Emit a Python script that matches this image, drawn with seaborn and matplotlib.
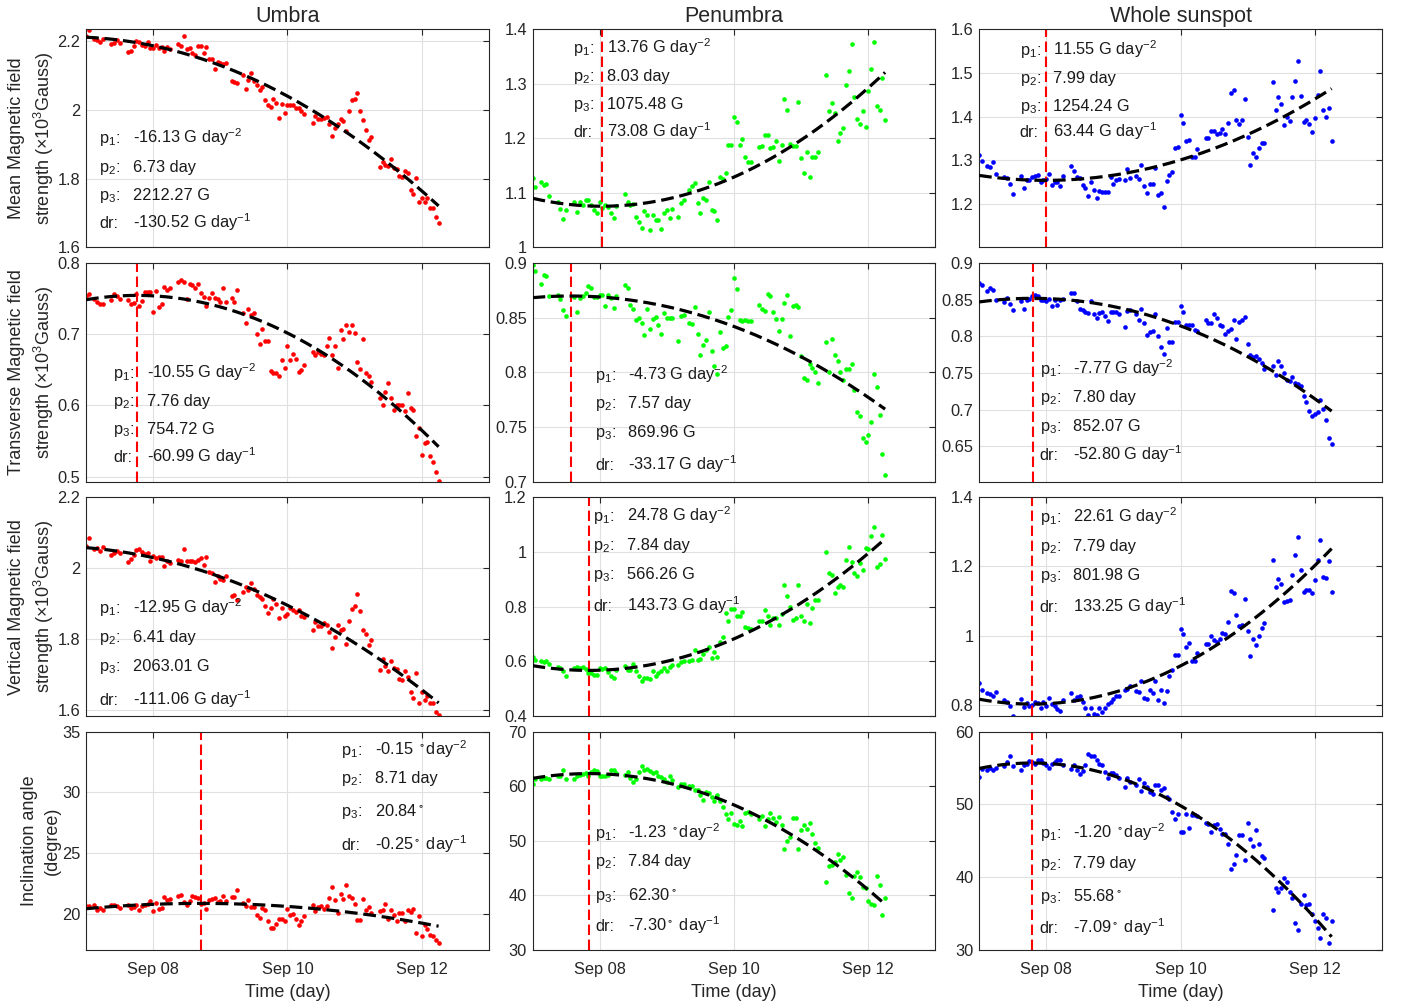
import numpy as np
import pandas as pd
import matplotlib
matplotlib.use("Agg")
import matplotlib.pyplot as plt
from matplotlib.ticker import FormatStrFormatter
import seaborn as sns

# observation times, hours after Sep 07 00:00
hours = [0, 1, 3, 4, 5, 6,
         9, 10, 11, 12,
         15, 16, 17, 18, 19, 20, 21, 22, 23, 24, 25, 26, 27, 28, 29, 30,
         33, 34, 35, 36, 37, 38, 39, 40, 41, 42, 43, 44, 45, 46, 47, 48, 49, 50,
         52, 53, 54, 56, 57, 58, 59, 60, 61, 62, 63, 64, 65, 66, 67, 68, 69, 70, 71, 72, 73, 74, 75, 76, 77, 78,
         81, 82, 83, 84, 85, 86, 87, 88, 89, 90, 91, 92, 93, 94, 95, 96, 97, 98, 99, 100, 101, 102,
         105, 106, 107, 108, 109, 110, 111, 112, 113, 114, 115, 116, 117, 118, 119, 120, 121, 122, 123, 124, 125, 126]

# mean field strength (10^3 G)
umbra_mean = [2.215, 2.232, 2.205, 2.203, 2.198, 2.207,
              2.190, 2.193, 2.203, 2.195,
              2.167, 2.172, 2.185, 2.201, 2.197, 2.188, 2.186, 2.196, 2.180, 2.180, 2.188, 2.181, 2.183, 2.172, 2.182, 2.177,
              2.191, 2.187, 2.216, 2.176, 2.180, 2.164, 2.159, 2.185, 2.185, 2.166, 2.182, 2.148, 2.147, 2.120, 2.140, 2.135, 2.133, 2.135,
              2.083, 2.080, 2.079, 2.100, 2.060, 2.086, 2.106, 2.083, 2.072, 2.057, 2.067, 2.028, 2.013, 2.009, 2.032, 2.020, 1.977, 2.016, 1.991, 2.013, 2.013, 2.014, 2.006, 2.004, 1.997, 1.989,
              1.962, 1.982, 1.973, 1.973, 1.977, 1.980, 1.960, 1.924, 1.946, 1.960, 1.972, 1.968, 1.939, 1.997, 2.030, 2.032, 2.050, 1.998, 1.970, 1.941, 1.912, 1.920,
              1.834, 1.849, 1.840, 1.838, 1.856, 1.830, 1.827, 1.808, 1.805, 1.822, 1.815, 1.768, 1.756, 1.803, 1.732, 1.744, 1.732, 1.743, 1.714, 1.714, 1.688, 1.672]
penumbra_mean = [1.128, 1.110, 1.120, 1.115, 1.116, 1.095,
                 1.084, 1.071, 1.053, 1.068,
                 1.084, 1.065, 1.083, 1.078, 1.086, 1.086, 1.077, 1.068, 1.063, 1.083, 1.072, 1.078, 1.074, 1.063, 1.054, 1.076,
                 1.098, 1.083, 1.077, 1.080, 1.056, 1.046, 1.036, 1.067, 1.059, 1.032, 1.059, 1.050, 1.050, 1.034, 1.063, 1.069, 1.054, 1.071,
                 1.056, 1.082, 1.086, 1.105, 1.112, 1.118, 1.082, 1.063, 1.090, 1.086, 1.119, 1.069, 1.066, 1.051, 1.129, 1.126, 1.137, 1.188, 1.188, 1.238, 1.230, 1.188, 1.198, 1.166, 1.157, 1.156,
                 1.184, 1.186, 1.206, 1.205, 1.182, 1.184, 1.195, 1.158, 1.188, 1.271, 1.251, 1.190, 1.186, 1.185, 1.267, 1.164, 1.137, 1.175, 1.129, 1.165, 1.165, 1.175,
                 1.316, 1.249, 1.264, 1.246, 1.195, 1.210, 1.218, 1.297, 1.324, 1.372, 1.276, 1.236, 1.226, 1.249, 1.221, 1.287, 1.327, 1.377, 1.259, 1.251, 1.310, 1.234]
whole_mean = [1.312, 1.298, 1.286, 1.284, 1.296, 1.268,
              1.261, 1.260, 1.246, 1.223,
              1.264, 1.237, 1.254, 1.254, 1.261, 1.265, 1.267, 1.250, 1.254, 1.257, 1.269, 1.244, 1.250, 1.251, 1.241, 1.264,
              1.288, 1.275, 1.261, 1.260, 1.244, 1.237, 1.218, 1.250, 1.232, 1.213, 1.231, 1.228, 1.228, 1.227, 1.263, 1.246, 1.255, 1.257,
              1.255, 1.280, 1.260, 1.265, 1.257, 1.289, 1.242, 1.225, 1.246, 1.246, 1.283, 1.221, 1.225, 1.194, 1.252, 1.267, 1.273, 1.328, 1.330, 1.404, 1.386, 1.344, 1.347, 1.308, 1.308, 1.326,
              1.351, 1.351, 1.366, 1.368, 1.360, 1.363, 1.372, 1.360, 1.385, 1.453, 1.461, 1.393, 1.383, 1.392, 1.440, 1.354, 1.289, 1.317, 1.308, 1.328, 1.339, 1.339,
              1.479, 1.414, 1.444, 1.428, 1.381, 1.400, 1.389, 1.444, 1.482, 1.526, 1.447, 1.387, 1.391, 1.382, 1.364, 1.397, 1.450, 1.504, 1.416, 1.400, 1.420, 1.345]

# transverse field strength (10^3 G)
umbra_trans = [0.754, 0.757, 0.750, 0.745, 0.742, 0.743,
               0.748, 0.757, 0.754, 0.749,
               0.748, 0.743, 0.744, 0.756, 0.740, 0.747, 0.759, 0.759, 0.760, 0.732, 0.761, 0.738, 0.742, 0.767, 0.763, 0.765,
               0.773, 0.777, 0.774, 0.750, 0.771, 0.769, 0.765, 0.771, 0.758, 0.752, 0.740, 0.751, 0.758, 0.751, 0.749, 0.745, 0.765, 0.745,
               0.751, 0.745, 0.763, 0.730, 0.716, 0.736, 0.727, 0.730, 0.700, 0.686, 0.708, 0.691, 0.691, 0.649, 0.646, 0.645, 0.642, 0.664, 0.653, 0.684, 0.664, 0.672, 0.665, 0.647, 0.650, 0.657,
               0.675, 0.671, 0.675, 0.673, 0.671, 0.684, 0.695, 0.671, 0.684, 0.653, 0.706, 0.693, 0.713, 0.703, 0.713, 0.702, 0.661, 0.651, 0.694, 0.645, 0.642, 0.633,
               0.611, 0.600, 0.619, 0.631, 0.611, 0.594, 0.601, 0.600, 0.601, 0.592, 0.618, 0.596, 0.594, 0.557, 0.569, 0.530, 0.547, 0.548, 0.529, 0.521, 0.506, 0.494]
penumbra_trans = [0.898, 0.893, 0.881, 0.889, 0.888, 0.870,
                  0.871, 0.867, 0.857, 0.852,
                  0.869, 0.855, 0.868, 0.870, 0.873, 0.879, 0.877, 0.869, 0.869, 0.871, 0.871, 0.861, 0.871, 0.868, 0.859, 0.870,
                  0.880, 0.877, 0.862, 0.858, 0.848, 0.850, 0.845, 0.834, 0.858, 0.840, 0.849, 0.851, 0.843, 0.835, 0.854, 0.850, 0.850, 0.850,
                  0.829, 0.852, 0.853, 0.845, 0.844, 0.860, 0.835, 0.816, 0.825, 0.830, 0.855, 0.820, 0.806, 0.799, 0.837, 0.822, 0.824, 0.851, 0.857, 0.886, 0.876, 0.848, 0.847, 0.848, 0.847, 0.847,
                  0.862, 0.858, 0.856, 0.872, 0.870, 0.855, 0.849, 0.838, 0.849, 0.864, 0.871, 0.833, 0.861, 0.862, 0.860, 0.815, 0.795, 0.793, 0.808, 0.804, 0.800, 0.790,
                  0.828, 0.800, 0.831, 0.816, 0.810, 0.800, 0.793, 0.803, 0.803, 0.808, 0.784, 0.764, 0.760, 0.740, 0.736, 0.743, 0.755, 0.799, 0.787, 0.761, 0.725, 0.706]
whole_trans = [0.873, 0.870, 0.862, 0.866, 0.864, 0.850,
               0.847, 0.852, 0.845, 0.836,
               0.849, 0.838, 0.850, 0.851, 0.855, 0.857, 0.855, 0.850, 0.850, 0.849, 0.851, 0.841, 0.850, 0.843, 0.850, 0.851,
               0.860, 0.859, 0.848, 0.838, 0.836, 0.834, 0.832, 0.849, 0.830, 0.825, 0.832, 0.833, 0.828, 0.821, 0.834, 0.833, 0.833, 0.831,
               0.813, 0.835, 0.836, 0.830, 0.822, 0.838, 0.819, 0.802, 0.806, 0.807, 0.831, 0.800, 0.786, 0.776, 0.811, 0.793, 0.793, 0.820, 0.820, 0.842, 0.834, 0.815, 0.815, 0.815, 0.809, 0.808,
               0.822, 0.819, 0.818, 0.831, 0.825, 0.815, 0.814, 0.803, 0.807, 0.810, 0.822, 0.797, 0.820, 0.822, 0.826, 0.790, 0.775, 0.772, 0.773, 0.769, 0.764, 0.756,
               0.760, 0.747, 0.766, 0.760, 0.750, 0.741, 0.739, 0.745, 0.737, 0.735, 0.732, 0.719, 0.711, 0.698, 0.691, 0.694, 0.697, 0.714, 0.701, 0.686, 0.662, 0.654]

# vertical field strength (10^3 G)
umbra_vert = [2.064, 2.086, 2.054, 2.058, 2.050, 2.059,
              2.038, 2.044, 2.050, 2.044,
              2.017, 2.026, 2.038, 2.051, 2.054, 2.045, 2.040, 2.042, 2.022, 2.035, 2.030, 2.032, 2.033, 2.008, 2.022, 2.014,
              2.023, 2.021, 2.054, 2.022, 2.022, 2.020, 2.018, 2.023, 2.028, 2.009, 2.031, 1.991, 1.986, 1.962, 1.979, 1.970, 1.967, 1.979,
              1.923, 1.925, 1.911, 1.934, 1.948, 1.939, 1.960, 1.942, 1.925, 1.920, 1.913, 1.894, 1.875, 1.889, 1.915, 1.901, 1.859, 1.889, 1.867, 1.873, 1.889, 1.883, 1.878, 1.883, 1.867, 1.864,
              1.826, 1.850, 1.838, 1.838, 1.847, 1.840, 1.820, 1.775, 1.808, 1.840, 1.826, 1.829, 1.786, 1.853, 1.885, 1.895, 1.929, 1.880, 1.828, 1.814, 1.784, 1.798,
              1.714, 1.745, 1.725, 1.711, 1.739, 1.720, 1.716, 1.688, 1.687, 1.711, 1.693, 1.651, 1.636, 1.706, 1.622, 1.651, 1.629, 1.640, 1.620, 1.620, 1.596, 1.586]
penumbra_vert = [0.617, 0.605, 0.599, 0.596, 0.599, 0.589,
                 0.580, 0.574, 0.564, 0.546,
                 0.574, 0.578, 0.574, 0.578, 0.571, 0.558, 0.556, 0.550, 0.550, 0.574, 0.571, 0.574, 0.562, 0.546, 0.538, 0.568,
                 0.583, 0.568, 0.568, 0.590, 0.565, 0.546, 0.529, 0.538, 0.540, 0.534, 0.565, 0.546, 0.556, 0.565, 0.574, 0.565, 0.577, 0.587,
                 0.587, 0.596, 0.599, 0.600, 0.605, 0.642, 0.604, 0.609, 0.627, 0.642, 0.651, 0.611, 0.633, 0.614, 0.670, 0.688, 0.776, 0.746, 0.792, 0.792, 0.766, 0.766, 0.782, 0.727, 0.721, 0.717,
                 0.746, 0.749, 0.786, 0.764, 0.731, 0.760, 0.757, 0.733, 0.773, 0.880, 0.837, 0.797, 0.752, 0.758, 0.880, 0.766, 0.748, 0.809, 0.739, 0.795, 0.825, 0.823,
                 0.999, 0.923, 0.917, 0.850, 0.872, 0.880, 0.872, 0.972, 1.017, 0.962, 0.923, 0.913, 0.960, 0.935, 1.015, 1.012, 1.057, 1.090, 0.945, 0.956, 1.061, 0.976]
whole_vert = [0.862, 0.843, 0.833, 0.831, 0.824, 0.838,
              0.814, 0.809, 0.795, 0.768,
              0.817, 0.793, 0.804, 0.797, 0.800, 0.807, 0.806, 0.790, 0.809, 0.795, 0.819, 0.801, 0.795, 0.787, 0.782, 0.814,
              0.833, 0.814, 0.821, 0.826, 0.809, 0.792, 0.770, 0.792, 0.773, 0.771, 0.790, 0.780, 0.790, 0.801, 0.809, 0.817, 0.826, 0.826,
              0.843, 0.845, 0.855, 0.840, 0.838, 0.869, 0.819, 0.816, 0.843, 0.833, 0.869, 0.814, 0.843, 0.804, 0.841, 0.883, 0.902, 0.945, 0.943, 1.020, 1.006, 0.967, 0.979, 0.927, 0.927, 0.950,
              0.977, 0.977, 1.000, 0.988, 0.982, 0.991, 1.008, 1.006, 1.039, 1.128, 1.122, 1.060, 1.028, 1.032, 1.106, 1.012, 0.942, 0.991, 0.972, 1.000, 1.022, 1.036,
              1.220, 1.140, 1.164, 1.148, 1.097, 1.100, 1.104, 1.175, 1.234, 1.286, 1.190, 1.126, 1.133, 1.133, 1.123, 1.162, 1.219, 1.277, 1.171, 1.166, 1.215, 1.126]

# inclination angle (degree)
umbra_incl = [20.61, 20.63, 20.74, 20.28, 20.50, 20.33,
              20.69, 20.69, 20.63, 20.47,
              20.74, 20.47, 20.55, 20.69, 20.28, 20.61, 20.69, 20.83, 21.05, 20.19, 20.88, 20.41, 20.50, 21.38, 21.16, 21.24,
              21.43, 21.57, 20.96, 20.74, 21.02, 21.43, 21.38, 21.29, 20.83, 20.88, 20.36, 21.16, 21.24, 21.29, 20.96, 21.02, 21.46, 21.02,
              21.38, 21.33, 21.93, 20.90, 20.63, 21.16, 20.55, 20.55, 19.86, 19.67, 20.47, 20.28, 19.37, 18.84, 18.82, 19.12, 19.59, 19.53, 19.40, 20.41, 19.86, 20.00, 19.59, 19.04, 19.37, 19.81,
              20.69, 20.19, 20.55, 20.61, 20.40, 20.60, 21.32, 22.15, 21.10, 20.06, 21.65, 21.24, 22.34, 21.43, 21.29, 20.83, 19.50, 19.50, 21.24, 20.33, 20.55, 20.06,
              20.19, 20.28, 20.83, 19.59, 20.28, 19.90, 19.39, 20.08, 20.06, 19.37, 20.28, 20.14, 20.41, 18.40, 19.78, 18.13, 19.09, 18.71, 18.26, 18.15, 17.80, 17.60]
penumbra_incl = [60.43, 61.22, 61.34, 61.46, 61.46, 61.34,
                 61.77, 61.95, 62.99, 61.34,
                 61.34, 61.83, 62.07, 62.26, 62.38, 61.95, 62.56, 62.99, 62.74, 61.83, 61.95, 61.83, 62.13, 62.87, 63.05, 62.38,
                 62.07, 62.68, 61.46, 60.73, 61.34, 62.56, 63.60, 63.05, 63.17, 62.74, 62.44, 62.56, 61.95, 61.65, 61.22, 60.85, 61.83, 61.16,
                 59.82, 60.43, 60.43, 60.00, 60.12, 59.21, 59.21, 58.29, 57.50, 58.90, 58.72, 57.99, 57.26, 58.29, 57.26, 56.16, 54.94, 54.02, 55.06, 53.11, 52.80, 53.60, 52.68, 55.06, 55.36, 54.94,
                 54.00, 54.45, 52.68, 54.00, 55.06, 54.14, 53.41, 54.33, 52.80, 48.41, 49.94, 50.67, 54.20, 54.14, 48.41, 51.89, 52.80, 52.19, 53.29, 51.28, 49.63, 48.72,
                 42.43, 45.36, 45.60, 46.09, 47.62, 46.50, 47.00, 43.65, 40.42, 39.50, 43.53, 44.26, 43.35, 41.52, 41.33, 38.89, 38.35, 38.28, 43.47, 41.94, 36.33, 39.57]
whole_incl = [53.74, 54.79, 54.75, 54.98, 54.66, 54.98,
              55.25, 55.80, 56.71, 55.21,
              54.66, 55.34, 55.48, 55.89, 55.80, 55.60, 56.03, 56.16, 55.66, 55.34, 54.98, 55.48, 55.80, 56.03, 56.16, 55.34,
              54.89, 55.43, 54.66, 54.20, 54.57, 55.34, 56.85, 56.71, 56.58, 56.12, 55.57, 55.34, 54.43, 53.61, 54.34, 54.29, 54.06, 53.65,
              52.37, 53.60, 53.06, 52.70, 53.52, 51.78, 52.97, 52.37, 51.69, 51.37, 52.70, 52.60, 52.00, 52.28, 51.00, 50.78, 48.95, 48.04, 48.63, 46.21, 46.21, 48.72, 46.76, 48.58, 48.49, 48.36,
              47.49, 47.35, 46.21, 47.20, 47.35, 46.67, 45.98, 45.89, 44.61, 41.10, 41.87, 43.11, 45.75, 45.75, 42.33, 47.44, 45.30, 44.25, 46.44, 44.57, 42.88, 42.65,
              35.48, 38.54, 37.90, 38.45, 39.95, 39.36, 38.00, 37.08, 33.74, 32.74, 36.26, 37.53, 36.16, 36.26, 35.00, 33.97, 32.97, 31.60, 34.93, 34.34, 30.91, 34.02]

# fit parameters, rows: mean, transverse, vertical, inclination; cols: umbra, penumbra, whole
p1 = [[-16.13, 13.76, 11.55], [-10.55, -4.73, -7.77], [-12.95, 24.78, 22.61], [-0.15, -1.23, -1.20]]
p2 = [[6.73, 8.03, 7.99], [7.76, 7.57, 7.80], [6.41, 7.84, 7.79], [8.71, 7.84, 7.79]]
p3 = [[2212.27, 1075.48, 1254.24], [754.72, 869.96, 852.07], [2063.01, 566.26, 801.98], [20.84, 62.30, 55.68]]
dr = [[-130.52, 73.08, 63.44], [-60.99, -33.17, -52.80], [-111.06, 143.73, 133.25], [-0.25, -7.30, -7.09]]

col_titles = ["Umbra", "Penumbra", "Whole sunspot"]
row_labels = ["Mean Magnetic field\nstrength (×10$^3$Gauss)",
              "Transverse Magnetic field\nstrength (×10$^3$Gauss)",
              "Vertical Magnetic field\nstrength (×10$^3$Gauss)",
              "Inclination angle\n(degree)"]
xtick_days = [8, 10, 12]
xtick_labels = ["Sep 08", "Sep 10", "Sep 12"]

series = [[umbra_mean, penumbra_mean, whole_mean],
          [umbra_trans, penumbra_trans, whole_trans],
          [umbra_vert, penumbra_vert, whole_vert],
          [umbra_incl, penumbra_incl, whole_incl]]
colors = ["#ff0000", "#00ff00", "#0000ff"]

yticks = [[[1.6, 1.8, 2, 2.2], [1, 1.1, 1.2, 1.3, 1.4], [1.2, 1.3, 1.4, 1.5, 1.6]],
          [[0.5, 0.6, 0.7, 0.8], [0.7, 0.75, 0.8, 0.85, 0.9], [0.65, 0.7, 0.75, 0.8, 0.85, 0.9]],
          [[1.6, 1.8, 2, 2.2], [0.4, 0.6, 0.8, 1, 1.2], [0.8, 1, 1.2, 1.4]],
          [[20, 25, 30, 35], [30, 40, 50, 60, 70], [30, 40, 50, 60]]]
ylims = [[(1.6, 2.235), (1.0, 1.4), (1.101, 1.6)],
         [(0.493, 0.8), (0.7, 0.9), (0.602, 0.9)],
         [(1.585, 2.2), (0.4, 1.2), (0.768, 1.4)],
         [(17.0, 35), (30, 70), (30, 60)]]

# annotation placement (axes fraction)
text_x = [[0.033, 0.101, 0.101], [0.068, 0.155, 0.151], [0.033, 0.151, 0.151], [0.634, 0.155, 0.151]]
text_y = [[[0.503, 0.373, 0.243, 0.116], [0.917, 0.787, 0.660, 0.533], [0.909, 0.779, 0.650, 0.533]],
          [[0.502, 0.372, 0.246, 0.119], [0.493, 0.363, 0.230, 0.078], [0.520, 0.390, 0.261, 0.124]],
          [[0.499, 0.365, 0.230, 0.078], [0.921, 0.787, 0.654, 0.509], [0.914, 0.781, 0.650, 0.502]],
          [[0.921, 0.792, 0.639, 0.487], [0.540, 0.411, 0.258, 0.113], [0.540, 0.403, 0.250, 0.105]]]

sns.set_theme(style="white")
plt.rcParams["font.family"] = ["Liberation Sans", "DejaVu Sans"]
plt.rcParams["mathtext.default"] = "regular"
plt.rcParams["axes.edgecolor"] = "#262626"
plt.rcParams["axes.linewidth"] = 0.8

times = 7 + np.array(hours) / 24.0
t_fit = np.linspace(times.min(), times.max(), 200)

fig, axes = plt.subplots(4, 3, figsize=(14.01, 10.06), dpi=100)
fig.subplots_adjust(left=86 / 1401, right=1382 / 1401, top=1 - 29 / 1006, bottom=1 - 950 / 1006,
                    wspace=0.108, hspace=0.072)

for i in range(4):
    for j in range(3):
        ax = axes[i, j]
        vals = np.array(series[i][j], dtype=float)
        assert len(vals) == len(times), (i, j, len(vals))
        scale = 1000.0 if i < 3 else 1.0
        df = pd.DataFrame({"t": times, "v": vals})
        ax.grid(True, color="#e0e0e0", lw=0.8)
        ax.set_axisbelow(True)
        sns.scatterplot(data=df, x="t", y="v", color=colors[j], s=11, linewidth=0, ax=ax, zorder=2)

        y_fit = (p1[i][j] * (t_fit - p2[i][j]) ** 2 + p3[i][j]) / scale
        sns.lineplot(x=t_fit, y=y_fit, color="black", lw=2.3, linestyle=(0, (4, 1.8)),
                     errorbar=None, ax=ax, zorder=3)
        ax.axvline(p2[i][j], color="red", lw=1.5, linestyle=(0, (5, 2.2)), zorder=2.5)

        ax.set_xlim(7, 13)
        ax.set_ylim(*ylims[i][j])
        ax.set_xticks(xtick_days)
        ax.set_yticks(yticks[i][j])
        ax.yaxis.set_major_formatter(FormatStrFormatter("%g"))
        if i == 3:
            ax.set_xticklabels(xtick_labels)
            ax.set_xlabel("Time (day)", fontsize=13, labelpad=5)
        else:
            ax.set_xticklabels([])
            ax.set_xlabel("")
        if j == 0:
            ax.set_ylabel(row_labels[i], fontsize=13, labelpad=1, linespacing=1.4)
        else:
            ax.set_ylabel("")
        if i == 0:
            ax.set_title(col_titles[j], fontsize=15.5, pad=5)
        ax.tick_params(direction="in", length=4, width=0.8, top=True, right=True,
                       labelsize=11.8, colors="#262626", pad=4)
        ax.tick_params(axis="x", pad=8.5)
        for s in ax.spines.values():
            s.set_visible(True)
            s.set_color("#262626")
            s.set_linewidth(0.8)

        if i < 3:
            vtxt = [f"{p1[i][j]:.2f} G day$^{{-2}}$", f"{p2[i][j]:.2f} day",
                    f"{p3[i][j]:.2f} G", f"{dr[i][j]:.2f} G day$^{{-1}}$"]
        else:
            vtxt = [f"{p1[i][j]:.2f} $^\\circ$day$^{{-2}}$", f"{p2[i][j]:.2f} day",
                    f"{p3[i][j]:.2f}$^\\circ$", f"{dr[i][j]:.2f}$^\\circ$ day$^{{-1}}$"]
        ltxt = ["p$_1$:", "p$_2$:", "p$_3$:", "dr:"]
        for k in range(4):
            yy = text_y[i][j][k] - 0.027
            ax.text(text_x[i][j], yy, ltxt[k], transform=ax.transAxes, fontsize=11.8,
                    va="baseline", ha="left", color="#1a1a1a", zorder=4)
            ax.text(text_x[i][j] + 0.083, yy, vtxt[k], transform=ax.transAxes, fontsize=11.8,
                    va="baseline", ha="left", color="#1a1a1a", zorder=4)

fig.savefig("out.png", dpi=100)
